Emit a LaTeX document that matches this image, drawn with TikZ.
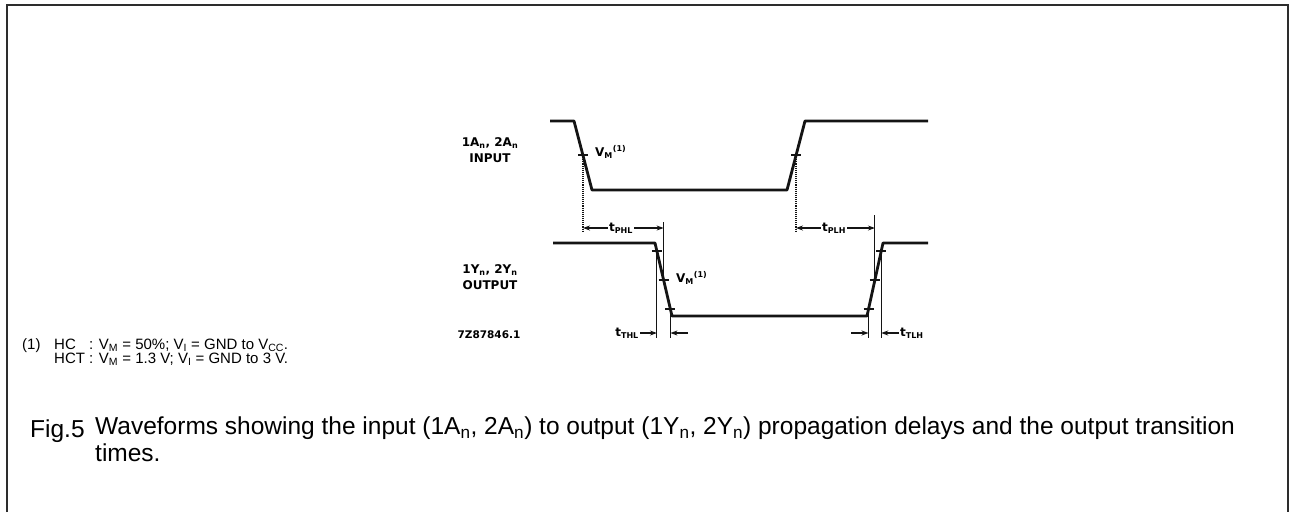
\documentclass[tikz,border=0pt]{standalone}
\usepackage{fontspec}
\setmainfont{Liberation Sans}
\newfontfamily\wavefont{DejaVu Sans}
\usetikzlibrary{arrows.meta, positioning, calc}
\definecolor{wavegray}{RGB}{20,20,20}
\definecolor{framegray}{RGB}{45,45,45}

\begin{document}
\begin{tikzpicture}[x=1pt, y=-1pt,
    wave/.style={line width=2.8pt, wavegray, line join=round},
    guide/.style={line width=1.1pt, wavegray},
    dotguide/.style={line width=1.1pt, wavegray, densely dotted},
    tick/.style={line width=1.4pt, wavegray},
    timearrow/.style={-{Stealth[length=7pt, width=5pt]}, line width=1.1pt, wavegray},
    siglabel/.style={font=\wavefont\bfseries\fontsize{12}{14}\selectfont, inner sep=1pt},
    note/.style={font=\fontsize{15}{14.5}\selectfont, anchor=west, inner sep=0pt, align=left}
]
\useasboundingbox (0,0) rectangle (1293,512);

% Frame
\draw[line width=1.8pt, framegray] (7,512) -- (7,5) -- (1288,5) -- (1288,512);

% Input waveform
\coordinate (ia) at (550,121);
\coordinate (ib) at (574,121);
\coordinate (ic) at (592,190);
\coordinate (id) at (787,190);
\coordinate (ie) at (805,121);
\coordinate (if) at (928,121);
\coordinate (iv1) at (583,155);
\coordinate (iv2) at (796,155);
\draw[wave] (ia) -- (ib) -- (ic) -- (id) -- (ie) -- (if);

% Output waveform
\coordinate (oa) at (553,243);
\coordinate (ob) at (655,243);
\coordinate (oc) at (672,316);
\coordinate (od) at (867,316);
\coordinate (oe) at (883,243);
\coordinate (of) at (928,243);
\coordinate (fv1) at (656.9,251);
\coordinate (fv2) at (663.6,280);
\coordinate (fv3) at (670.4,309);
\coordinate (rv1) at (868.5,309);
\coordinate (rv2) at (874.9,280);
\coordinate (rv3) at (881.2,251);
\draw[wave] (oa) -- (ob) -- (oc) -- (od) -- (oe) -- (of);

% Level ticks
\foreach \p in {iv1, iv2, fv1, fv2, fv3, rv1, rv2, rv3}
    \draw[tick] ([xshift=-5pt]\p) -- ([xshift=5pt]\p);

% Guide lines
\draw[dotguide] (iv1) -- ++(0,77);
\draw[dotguide] (iv2) -- ++(0,77);
\draw[guide] (fv2) -- ++(0,-58);
\draw[guide] (rv2) -- ++(0,-65);
\draw[guide] (fv1) -- ++(0,87);
\draw[guide] (fv3) -- ++(0,29);
\draw[guide] (rv1) -- ++(0,29);
\draw[guide] (rv3) -- ++(0,87);

% Propagation delays
\node[siglabel] (tphl) at (621,228) {t\textsubscript{PHL}};
\draw[timearrow] (tphl.west) -- (iv1 |- tphl);
\draw[timearrow] (tphl.east) -- (fv2 |- tphl);
\node[siglabel] (tplh) at (834,228) {t\textsubscript{PLH}};
\draw[timearrow] (tplh.west) -- (iv2 |- tplh);
\draw[timearrow] (tplh.east) -- (rv2 |- tplh);

% Transition times
\node[siglabel, anchor=east] (tthl) at (640,333) {t\textsubscript{THL}};
\coordinate (tthlend) at (688,333);
\draw[timearrow] (tthl.east) -- (fv1 |- tthl);
\draw[timearrow] (tthlend) -- (fv3 |- tthlend);
\node[siglabel, anchor=west] (ttlh) at (899,333) {t\textsubscript{TLH}};
\coordinate (ttlhstart) at (851,333);
\draw[timearrow] (ttlhstart) -- (rv1 |- ttlhstart);
\draw[timearrow] (ttlh.west) -- (rv3 |- ttlh);

% V_M labels
\node[siglabel, anchor=west] (vmin) at (594,152) {V\textsubscript{M}\textsuperscript{(1)}};
\node[siglabel, anchor=west] (vmout) at (675,278) {V\textsubscript{M}\textsuperscript{(1)}};

% Signal names
\node[siglabel] (inname) at (490,143) {1A\textsubscript{n}, 2A\textsubscript{n}};
\node[siglabel, below=3pt of inname] (intype) {INPUT};
\node[siglabel] (outname) at (490,270) {1Y\textsubscript{n}, 2Y\textsubscript{n}};
\node[siglabel, below=3pt of outname] (outtype) {OUTPUT};
\node[siglabel, font=\wavefont\bfseries\fontsize{10.5}{12}\selectfont] (figcode) at (489,335) {7Z87846.1};

% Footnote
\node[note] (fnote) at (22,352) {\makebox[32pt][l]{(1)}\makebox[35pt][l]{HC}: V\textsubscript{M} = 50\%; V\textsubscript{I} = GND to V\textsubscript{CC}.\\
\makebox[32pt][l]{}\makebox[35pt][l]{HCT}: V\textsubscript{M} = 1.3 V; V\textsubscript{I} = GND to 3 V.};

% Caption
\node[note, font=\fontsize{24.5}{27}\selectfont] (fignum) at (30,431) {Fig.5};
\node[note, font=\fontsize{24.5}{27}\selectfont, anchor=north west] (figtext) at (95,417) {Waveforms showing the input (1A\textsubscript{n}, 2A\textsubscript{n}) to output (1Y\textsubscript{n}, 2Y\textsubscript{n}) propagation delays and the output transition\\times.};

\end{tikzpicture}
\end{document}
